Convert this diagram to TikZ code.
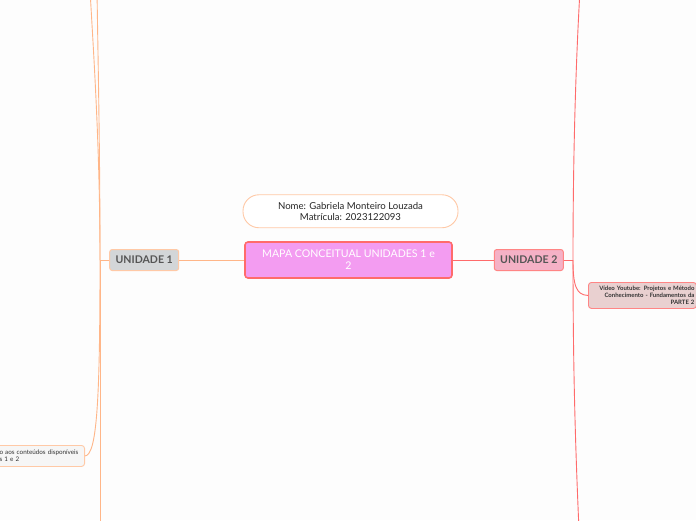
\documentclass[tikz,border=0pt]{standalone}
\usepackage{fontspec}
\setmainfont{Lato}
\usepackage{xcolor}
\usepackage{tikz}
\usetikzlibrary{positioning,calc}
\definecolor{pagebg}{HTML}{FDFDFD}
\definecolor{peach}{HTML}{FFB688}
\definecolor{peachl}{HTML}{FFC9A6}
\definecolor{coral}{HTML}{FF6B6B}
\definecolor{coralm}{HTML}{FF8585}
\definecolor{orchid}{HTML}{F39CF1}
\definecolor{greyf}{HTML}{D3D6D8}
\definecolor{rosef}{HTML}{F5B1C6}
\definecolor{dustf}{HTML}{E9D0D0}
\definecolor{paperf}{HTML}{F6F6F6}
\definecolor{inkc}{HTML}{555555}
\tikzset{
  root/.style={draw=coral,line width=1.6pt,rounded corners=3pt,fill=orchid,
    text=white,align=center,font=\fontsize{10.6}{12}\selectfont,
    minimum width=207pt,minimum height=36pt,inner sep=3pt},
  pill/.style={draw=peachl,line width=0.9pt,rounded corners=16pt,fill=white,
    text=black!85,align=center,font=\fontsize{9.6}{11}\selectfont,
    minimum width=215pt,minimum height=33pt,inner sep=2pt},
  unit/.style={line width=1pt,rounded corners=2.5pt,text=inkc,
    font=\bfseries\fontsize{10.6}{12}\selectfont,
    minimum width=69pt,minimum height=21pt,inner sep=2pt},
  unita/.style={unit,draw=peachl,fill=greyf},
  unitb/.style={unit,draw=coralm,fill=rosef},
  leaf/.style={line width=0.9pt,rounded corners=3pt,text=black!80,
    font=\fontsize{6.3}{7.4}\selectfont,inner sep=2pt},
  leafa/.style={leaf,draw=peachl,fill=paperf,align=left},
  leafb/.style={leaf,draw=coralm,fill=dustf,align=right,font=\bfseries\fontsize{6}{7}\selectfont},
  linka/.style={draw=peach,line width=0.9pt},
  linkb/.style={draw=coral,line width=0.9pt},
}
\begin{document}
\begin{tikzpicture}[x=1pt,y=-1pt,node distance=13pt and 65pt]
  \useasboundingbox (0,0) rectangle (696,520);
  \fill[pagebg] (0,0) rectangle (696,520);
  \clip (0,0) rectangle (696,520);
  \node[root](map) at (348.5,260){MAPA CONCEITUAL UNIDADES 1 e\\2};
  \node[pill,above=13pt of map,xshift=2pt](name){Nome: Gabriela Monteiro Louzada\\Matrícula: 2023122093};
  \node[unita,left=65pt of map](u1){UNIDADE 1};
  \node[unitb,right=41pt of map](u2){UNIDADE 2};
  % branch points and off-page ends
  \coordinate (ja) at (100,260);
  \coordinate (jb) at (573,260);
  \coordinate (a1) at (90,-10);
  \coordinate (a2) at (97,-10);
  \coordinate (a3) at (100,530);
  \coordinate (b1) at (580,-10);
  \coordinate (b2) at (579,530);
  \node[leafa,anchor=north east,minimum height=21pt,text width=88pt](acc) at (85,445)
    {\hspace*{5pt}o aos conteúdos disponíveis\\\hspace*{5pt}s 1 e 2};
  \node[leafb,anchor=north west,minimum height=26pt,text width=104pt](vid) at (588,282)
    {Vídeo Youtube: Projetos e Método\\Conhecimento - Fundamentos da\\PARTE 2};
  \draw[linka](u1)--(map);
  \draw[linka](u1.west)--(ja);
  \draw[linkb](map)--(u2);
  \draw[linkb](u2.east)--(jb);
  \draw[linka](ja) .. controls (100,150) and (94,60) .. (a1);
  \draw[linka](ja) .. controls (100,150) and (98,60) .. (a2);
  \draw[linka](ja)--(a3);
  \draw[linka](ja) .. controls (100,400) and (97,455) .. (acc.east);
  \draw[linkb](jb) .. controls (573,150) and (576,60) .. (b1);
  \draw[linkb](jb) .. controls (573,380) and (576,460) .. (b2);
  \draw[linkb](jb) .. controls (573,285) and (576,295) .. (vid.west);
\end{tikzpicture}
\end{document}
